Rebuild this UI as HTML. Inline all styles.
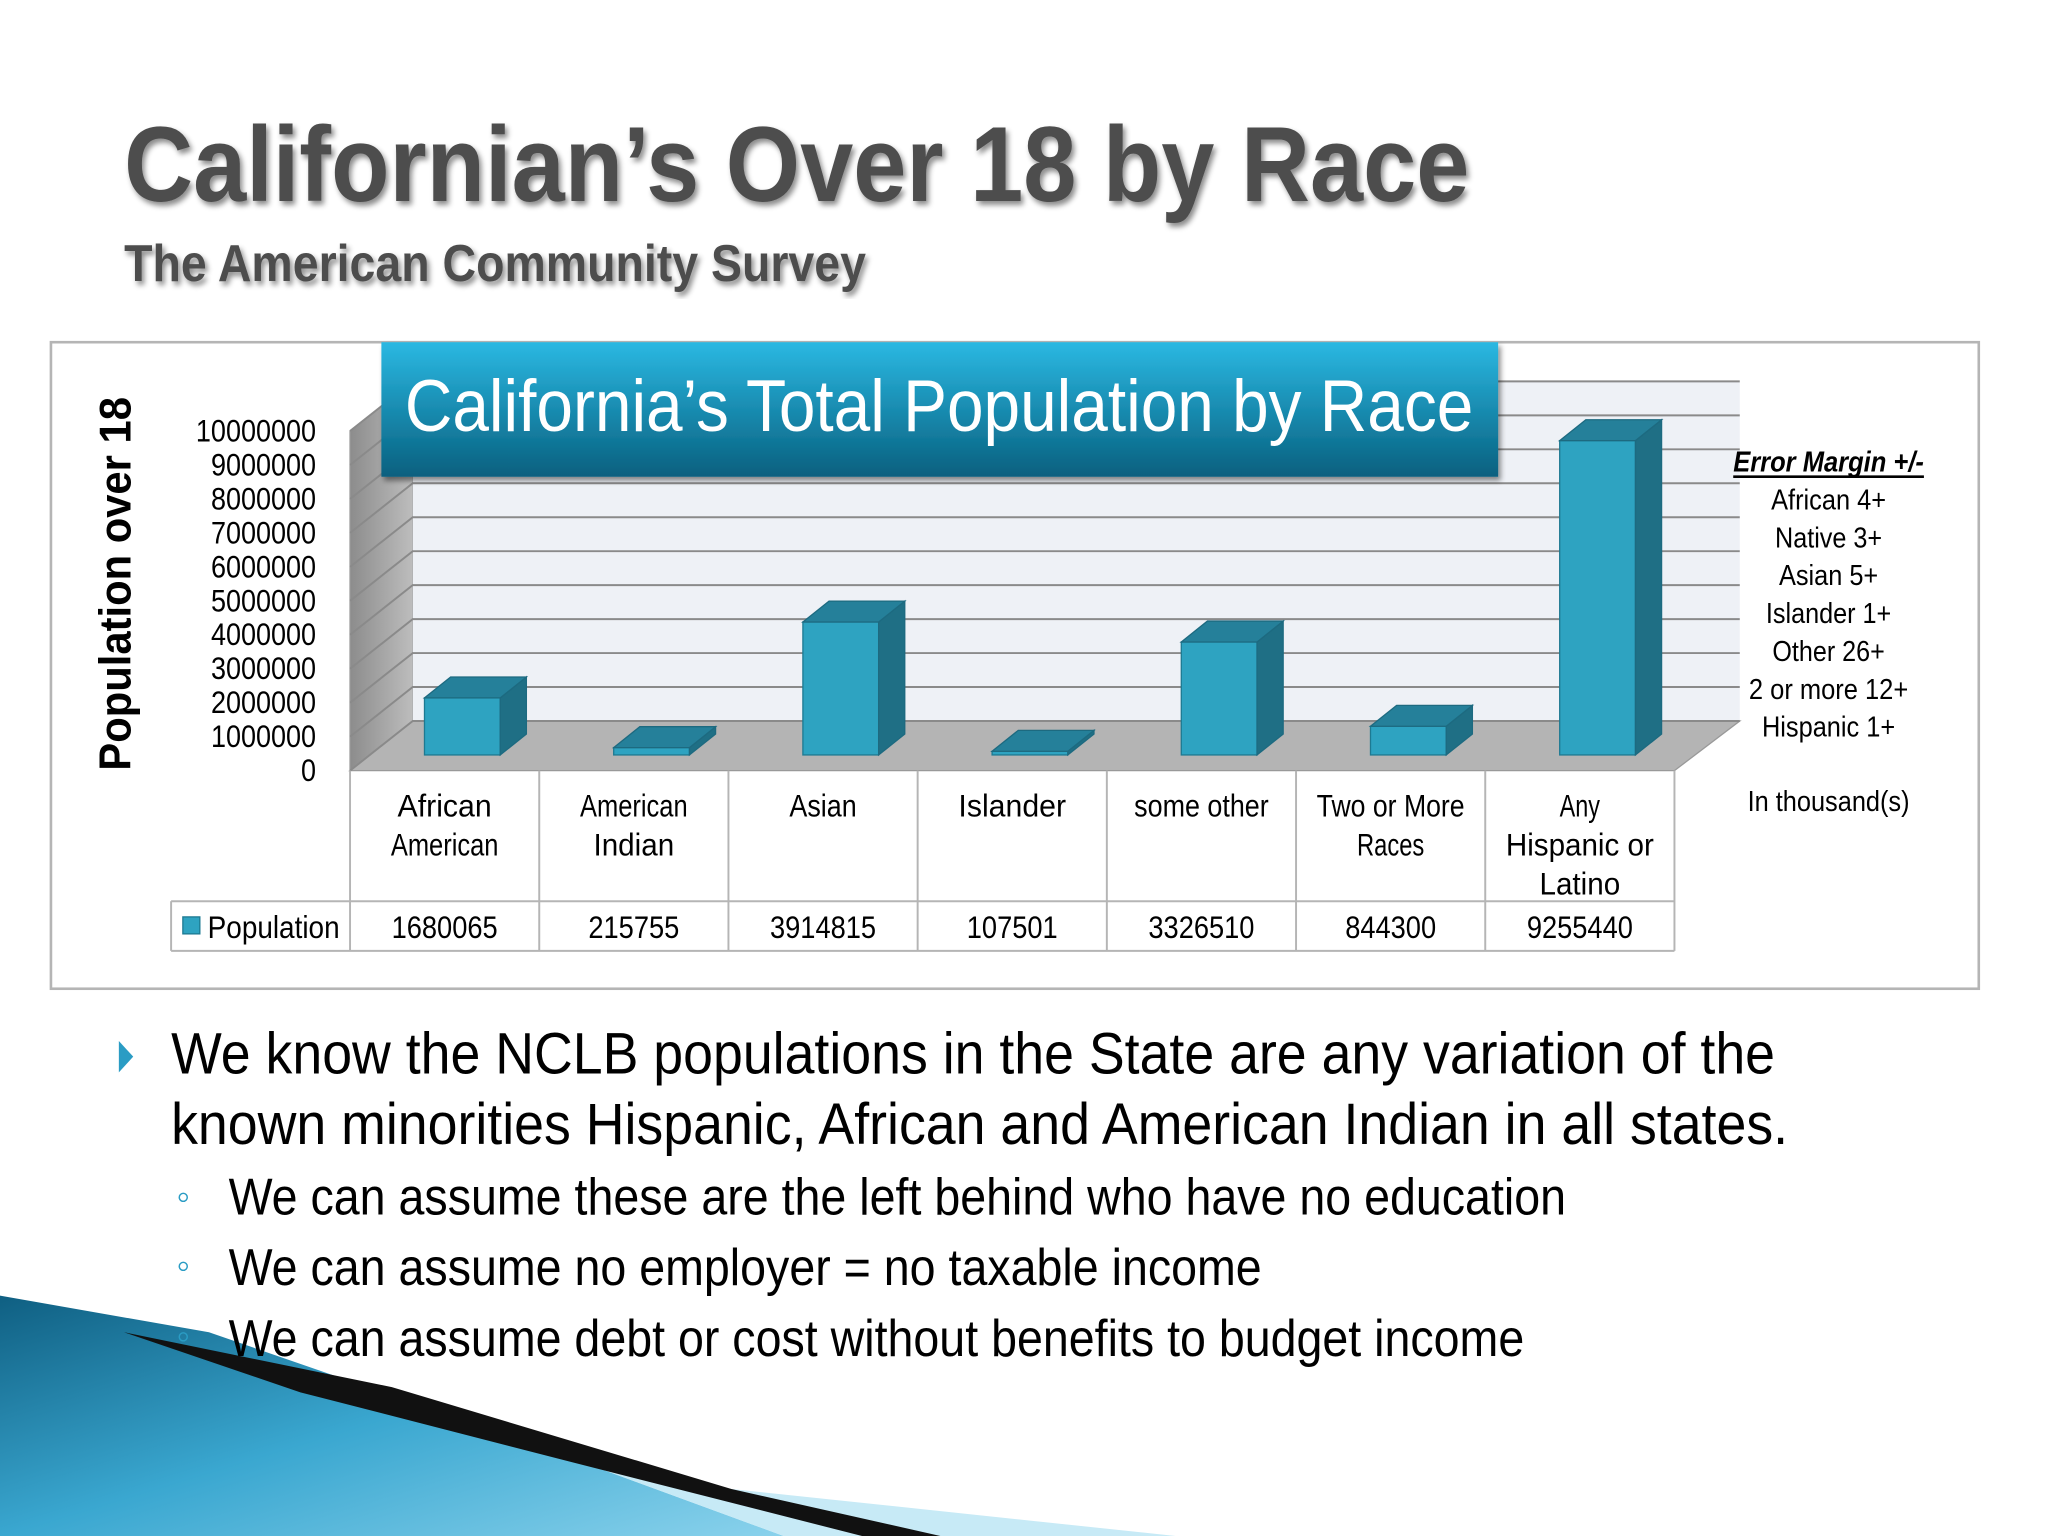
<!DOCTYPE html>
<html><head><meta charset="utf-8"><style>html,body{margin:0;padding:0;background:#fff}svg{display:block}</style></head>
<body>
<svg id="s" width="2048" height="1536" viewBox="0 0 1568 1176" xmlns="http://www.w3.org/2000/svg" font-family="Liberation Sans, sans-serif">
<defs>
<linearGradient id="ban" x1="0" y1="0" x2="0" y2="1"><stop offset="0" stop-color="#2bb8e2"/><stop offset="1" stop-color="#07607f"/></linearGradient>
<linearGradient id="sw" x1="0" y1="0" x2="1" y2="1"><stop offset="0" stop-color="#0f5f82"/><stop offset="0.5" stop-color="#3aa7d0"/><stop offset="1" stop-color="#8ad2ec"/></linearGradient>
<linearGradient id="lw" x1="0" y1="0" x2="1" y2="0"><stop offset="0" stop-color="#8c8c8c"/><stop offset="1" stop-color="#bdbdbd"/></linearGradient>
<filter id="sh"><feDropShadow dx="2" dy="3" stdDeviation="2" flood-color="#000" flood-opacity="0.45"/></filter>
</defs>
<g>
<polygon points="0,992 160,1020 420,1110 600,1176 0,1176" fill="url(#sw)"/>
<polygon points="600,1176 420,1110 560,1140 900,1176" fill="#c7eaf6"/>
<polygon points="95,1020 300,1062 560,1140 720,1176 660,1176 440,1120 230,1066" fill="#111"/>
</g>
<text x="95" y="154" font-size="82" font-weight="bold" fill="#4d4d4d" textLength="1030" lengthAdjust="spacingAndGlyphs" filter="url(#sh)">Californian’s Over 18 by Race</text>
<text x="95" y="215" font-size="40" font-weight="bold" fill="#4d4d4d" textLength="568" lengthAdjust="spacingAndGlyphs" filter="url(#sh)">The American Community Survey</text>
<rect x="39" y="262" width="1476" height="495" fill="#fff" stroke="#b5b5b5" stroke-width="2"/>
<g id="chart"></g>
<g>
<rect x="292" y="262" width="855" height="103" fill="url(#ban)" filter="url(#sh)"/>
<text x="310" y="330" font-size="56" fill="#fff" textLength="818" lengthAdjust="spacingAndGlyphs">California’s Total Population by Race</text>
</g>
<text transform="translate(100,447) rotate(-90)" text-anchor="middle" font-size="34" font-weight="bold" fill="#000" textLength="286" lengthAdjust="spacingAndGlyphs">Population over 18</text>
<g font-size="22" text-anchor="middle" fill="#000">
<text x="1400" y="361" font-weight="bold" font-style="italic" textLength="146" lengthAdjust="spacingAndGlyphs">Error Margin +/-</text>
<line x1="1327" y1="365" x2="1473" y2="365" stroke="#000" stroke-width="2"/>
<text x="1400" y="390" textLength="88" lengthAdjust="spacingAndGlyphs">African 4+</text>
<text x="1400" y="419" textLength="82" lengthAdjust="spacingAndGlyphs">Native 3+</text>
<text x="1400" y="448" textLength="76" lengthAdjust="spacingAndGlyphs">Asian 5+</text>
<text x="1400" y="477" textLength="96" lengthAdjust="spacingAndGlyphs">Islander 1+</text>
<text x="1400" y="506" textLength="86" lengthAdjust="spacingAndGlyphs">Other 26+</text>
<text x="1400" y="535" textLength="122" lengthAdjust="spacingAndGlyphs">2 or more 12+</text>
<text x="1400" y="564" textLength="102" lengthAdjust="spacingAndGlyphs">Hispanic 1+</text>
<text x="1400" y="621" textLength="124" lengthAdjust="spacingAndGlyphs">In thousand(s)</text>
</g>
<g fill="#000">
<polygon points="91,797 91,821 102,809" fill="#2a9cc4"/>
<text x="131" y="822" font-size="45" textLength="1228" lengthAdjust="spacingAndGlyphs">We know the NCLB populations in the State are any variation of the</text>
<text x="131" y="876" font-size="45" textLength="1238" lengthAdjust="spacingAndGlyphs">known minorities Hispanic, African and American Indian in all states.</text>
<text x="135" y="926" font-size="30" fill="#2a9cc4">◦</text>
<text x="175" y="930" font-size="40" textLength="1024" lengthAdjust="spacingAndGlyphs">We can assume these are the left behind who have no education</text>
<text x="135" y="979" font-size="30" fill="#2a9cc4">◦</text>
<text x="175" y="984" font-size="40" textLength="791" lengthAdjust="spacingAndGlyphs">We can assume no employer = no taxable income</text>
<text x="135" y="1033" font-size="30" fill="#2a9cc4">◦</text>
<text x="175" y="1038" font-size="40" textLength="992" lengthAdjust="spacingAndGlyphs">We can assume debt or cost without benefits to budget income</text>
</g>
<script>
const categories = [["African","American"],["American","Indian"],["Asian"],["Islander"],["some other"],["Two or More","Races"],["Any","Hispanic or","Latino"]];
const values = [1680065,215755,3914815,107501,3326510,844300,9255440];
const valueLabels = ["1680065","215755","3914815","107501","3326510","844300","9255440"];
const yTicks = [0,1000000,2000000,3000000,4000000,5000000,6000000,7000000,8000000,9000000,10000000];
const NS="http://www.w3.org/2000/svg";
const g=document.getElementById('chart');
function mk(t,a,p){const e=document.createElementNS(NS,t);for(const k in a)e.setAttribute(k,a[k]);(p||g).appendChild(e);return e;}
const x0=268,x1=1282,y0=590,dx=48,dy=-38,pxPerUnit=26/1000000;
const catW=(x1-x0)/categories.length;
function y(v){return y0-v*pxPerUnit;}
function xc(i){return x0+i*catW;}
let w=mk('polygon',{points:`${x0},${y(10000000)} ${x0+dx},${y(10000000)+dy} ${x0+dx},${y0+dy} ${x0},${y0}`,fill:'url(#lw)',stroke:'#999'});


w=mk('rect',{x:x0+dx,y:y(10000000)+dy,width:x1+50-x0-dx,height:10000000*pxPerUnit,fill:'#eef1f6'});


w=mk('polygon',{points:`${x0},${y0} ${x0+dx},${y0+dy} ${x1+50},${y0+dy} ${x1},${y0}`,fill:'#b4b4b4',stroke:'#999'});


yTicks.forEach(v=>{
  const gl=mk('polyline',{points:`${x0},${y(v)} ${x0+dx},${y(v)+dy} ${x1+50},${y(v)+dy}`,fill:'none',stroke:'#8a8a8a','stroke-width':1.5});
  
  
  const t=mk('text',{x:242,y:y(v)+8,'text-anchor':'end','font-size':24,textLength:String(v).length*11.5,lengthAdjust:'spacingAndGlyphs'});
  t.textContent=v;
  
  
});
const bw=58,bdx=20,bdy=-16,base=578;
values.forEach((v,i)=>{
  const bx=xc(i)+57,h=v*pxPerUnit,top=base-h;
  const bg=mk('g',{});
  
  
  mk('rect',{x:bx,y:top,width:bw,height:h,fill:'#2ea3c1',stroke:'#1d7a92'},bg);
  mk('polygon',{points:`${bx+bw},${top} ${bx+bw+bdx},${top+bdy} ${bx+bw+bdx},${base+bdy} ${bx+bw},${base}`,fill:'#1f6f85',stroke:'#1d6a80'},bg);
  mk('polygon',{points:`${bx},${top} ${bx+bdx},${top+bdy} ${bx+bw+bdx},${top+bdy} ${bx+bw},${top}`,fill:'#25809a',stroke:'#1d6a80'},bg);
});
const tl=mk('g',{stroke:'#b5b5b5','stroke-width':1.5,fill:'none'});


for(let i=0;i<=categories.length;i++)mk('line',{x1:xc(i),y1:y0,x2:xc(i),y2:728},tl);
mk('line',{x1:131,y1:690,x2:x1,y2:690},tl);
mk('line',{x1:131,y1:728,x2:x1,y2:728},tl);
mk('line',{x1:131,y1:690,x2:131,y2:728},tl);
categories.forEach((c,i)=>{
  c.forEach((ln,j)=>{
    const t=mk('text',{x:xc(i)+catW/2,y:625+j*30,'text-anchor':'middle','font-size':24,textLength:ln.length*10.3,lengthAdjust:'spacingAndGlyphs'});
    t.textContent=ln;
    
    
  });
  const t=mk('text',{x:xc(i)+catW/2,y:718,'text-anchor':'middle','font-size':24,textLength:valueLabels[i].length*11.6,lengthAdjust:'spacingAndGlyphs'});
  t.textContent=valueLabels[i];
  
  
});
const lk=mk('rect',{x:140,y:702,width:13,height:13,fill:'#2ea3c1',stroke:'#1d7a92'});


const lt=mk('text',{x:159,y:718,'font-size':24,textLength:101,lengthAdjust:'spacingAndGlyphs'});
lt.textContent='Population';


</script>
</svg>
</body></html>
